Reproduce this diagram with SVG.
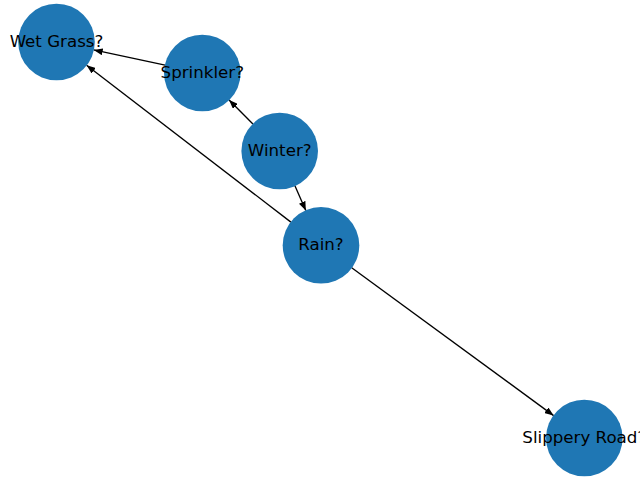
<svg xmlns="http://www.w3.org/2000/svg" width="640" height="480" viewBox="0 0 640 480">
  <style>
    .edge { stroke: #000; stroke-width: 1.35; fill: none; marker-end: url(#arrow); }
    .node circle { fill: #1f77b4; }
    .node text { font-family: "DejaVu Sans", sans-serif; font-size: 16.67px; fill: #000; text-anchor: middle; dominant-baseline: central; }
  </style>
  <defs>
    <marker id="arrow" markerUnits="userSpaceOnUse" markerWidth="9" markerHeight="7" refX="9" refY="3.5" orient="auto">
      <path d="M0,0 L9,3.5 L0,7 z" fill="#000"/>
    </marker>
  </defs>
  <rect width="640" height="480" fill="#fff"/>
  <g id="edges">
    <line class="edge" x1="165.1" y1="65.1" x2="93.7" y2="49.9"/>
    <line class="edge" x1="252.9" y1="124" x2="229.1" y2="100"/>
    <line class="edge" x1="294.9" y1="185.8" x2="305.8" y2="210.5"/>
    <line class="edge" x1="290.9" y1="222.1" x2="86.6" y2="65.2"/>
    <line class="edge" x1="351.7" y1="267.7" x2="553.6" y2="415.6"/>
  </g>
  <g id="wet-grass" class="node">
    <circle cx="56.5" cy="42" r="38.3"/>
    <text x="56.5" y="41">Wet Grass?</text>
  </g>
  <g id="sprinkler" class="node">
    <circle cx="202.3" cy="73" r="38.3"/>
    <text x="202.3" y="72">Sprinkler?</text>
  </g>
  <g id="winter" class="node">
    <circle cx="279.7" cy="151" r="38.3"/>
    <text x="279.7" y="150">Winter?</text>
  </g>
  <g id="rain" class="node">
    <circle cx="321" cy="245.3" r="38.3"/>
    <text x="321" y="244.3">Rain?</text>
  </g>
  <g id="slippery-road" class="node">
    <circle cx="584.3" cy="438" r="38.3"/>
    <text x="584.3" y="437">Slippery Road?</text>
  </g>
</svg>
